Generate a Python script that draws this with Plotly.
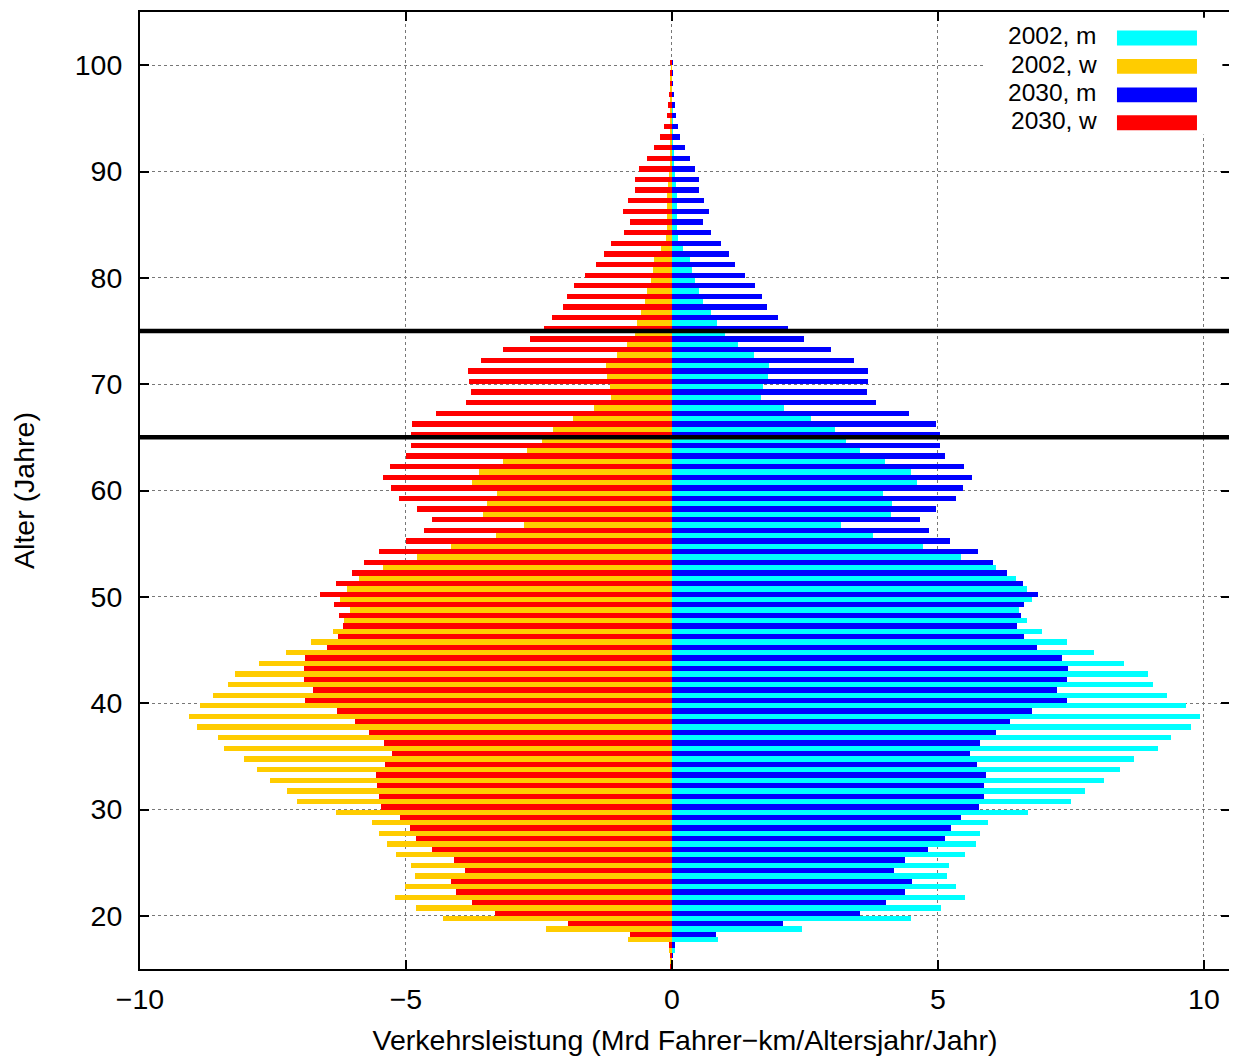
import plotly.graph_objects as go

# Ages (descending, 100 .. 15)
ages = list(range(100, 14, -1))

# 2030, men (Mrd Fahrer-km per age year), age 100 -> 15
m2030 = [0.01, 0.01, 0.02, 0.03, 0.05, 0.07, 0.11, 0.16, 0.24, 0.33,
         0.44, 0.50, 0.51, 0.61, 0.69, 0.59, 0.73, 0.92, 1.07, 1.19,
         1.37, 1.56, 1.69, 1.79, 1.99, 2.18, 2.48, 2.99, 3.42, 3.68,
         3.68, 3.66, 3.83, 4.45, 4.96, 5.04, 5.04, 5.13, 5.49, 5.64,
         5.47, 5.34, 4.96, 4.66, 4.83, 5.22, 5.75, 6.03, 6.30, 6.60,
         6.88, 6.61, 6.57, 6.48, 6.62, 6.87, 7.34, 7.45, 7.43, 7.24,
         7.43, 6.76, 6.36, 6.10, 5.79, 5.61, 5.74, 5.91, 5.87, 5.87,
         5.77, 5.43, 5.24, 5.13, 4.81, 4.38, 4.17, 4.51, 4.38, 4.02,
         3.53, 2.09, 0.83, 0.06, 0.01, 0.0]

# 2030, women (plotted to the left, negative)
w2030 = [-0.03, -0.03, -0.04, -0.05, -0.07, -0.10, -0.15, -0.22, -0.33, -0.47,
         -0.62, -0.70, -0.69, -0.82, -0.92, -0.78, -0.91, -1.14, -1.28, -1.43,
         -1.64, -1.84, -1.98, -2.05, -2.25, -2.40, -2.67, -3.18, -3.59, -3.84,
         -3.82, -3.77, -3.87, -4.43, -4.89, -4.91, -4.91, -5.00, -5.30, -5.43,
         -5.28, -5.14, -4.79, -4.51, -4.67, -5.00, -5.51, -5.78, -6.01, -6.32,
         -6.61, -6.36, -6.26, -6.18, -6.28, -6.49, -6.90, -6.91, -6.91, -6.75,
         -6.89, -6.30, -5.96, -5.69, -5.42, -5.27, -5.39, -5.57, -5.55, -5.51,
         -5.47, -5.11, -4.93, -4.81, -4.52, -4.10, -3.90, -4.15, -4.06, -3.75,
         -3.33, -1.96, -0.78, -0.06, -0.03, -0.03]

# 2002, men
m2002 = [0.0, 0.0, 0.0, 0.0, 0.01, 0.01, 0.02, 0.02, 0.03, 0.04,
         0.05, 0.07, 0.10, 0.10, 0.10, 0.10, 0.12, 0.21, 0.33, 0.38,
         0.43, 0.50, 0.58, 0.73, 0.85, 1.00, 1.24, 1.54, 1.82, 1.80,
         1.71, 1.67, 2.10, 2.61, 3.06, 3.27, 3.53, 4.00, 4.50, 4.60,
         3.96, 4.13, 4.12, 3.17, 3.77, 4.71, 5.43, 6.09, 6.47, 6.67,
         6.77, 6.53, 6.67, 6.95, 7.42, 7.94, 8.49, 8.94, 9.05, 9.31,
         9.66, 9.92, 9.76, 9.38, 9.13, 8.68, 8.43, 8.13, 7.76, 7.51,
         6.70, 5.95, 5.79, 5.71, 5.51, 5.21, 5.17, 5.34, 5.51, 5.06,
         4.49, 2.45, 0.86, 0.06, 0.0, 0.0]

# 2002, women (negative)
w2002 = [-0.01, -0.02, -0.02, -0.02, -0.02, -0.03, -0.03, -0.03, -0.04, -0.04,
         -0.05, -0.08, -0.10, -0.10, -0.10, -0.10, -0.12, -0.21, -0.33, -0.35,
         -0.39, -0.47, -0.51, -0.59, -0.65, -0.70, -0.84, -1.04, -1.24, -1.23,
         -1.17, -1.15, -1.47, -1.86, -2.24, -2.45, -2.73, -3.17, -3.63, -3.76,
         -3.28, -3.48, -3.56, -2.79, -3.30, -4.15, -4.79, -5.44, -5.88, -6.10,
         -6.24, -6.05, -6.17, -6.37, -6.79, -7.26, -7.76, -8.21, -8.35, -8.62,
         -8.87, -9.07, -8.92, -8.54, -8.42, -8.04, -7.80, -7.56, -7.24, -7.05,
         -6.32, -5.64, -5.50, -5.36, -5.19, -4.91, -4.83, -5.01, -5.21, -4.82,
         -4.30, -2.37, -0.83, -0.05, -0.02, 0.0]

series_names = ["2002, m", "2002, w", "2030, m", "2030, w"]
series_values = [m2002, w2002, m2030, w2030]
series_colors = ["#00FFFF", "#FFCC00", "#0000FF", "#FF0000"]
series_offsets = [-0.5, -0.5, 0.0, 0.0]   # 2002 below the age mark, 2030 above

marker_ages = [65, 75]

x_ticks = [-10, -5, 0, 5, 10]
y_ticks = [20, 30, 40, 50, 60, 70, 80, 90, 100]

FONT = "Liberation Sans, Arial, Helvetica, sans-serif"
FS = 28.5
LEG_FS = 24.5

fig = go.Figure()
for name, vals, col, off in zip(series_names, series_values, series_colors, series_offsets):
    fig.add_trace(go.Bar(
        x=vals, y=ages, orientation="h", name=name,
        width=0.5, offset=off,
        marker=dict(color=col, line=dict(width=0)),
        showlegend=False,
    ))

# thick reference lines
for a in marker_ages:
    fig.add_shape(type="line", xref="paper", yref="y", x0=0, x1=1, y0=a, y1=a,
                  line=dict(color="black", width=4.5), layer="above")

# custom legend (text left of swatch, like the original)
fig.add_shape(type="rect", xref="paper", yref="paper",
              x0=0.775, x1=0.993, y0=0.872, y1=0.994,
              fillcolor="white", line=dict(width=0), layer="above")
leg_y = [0.9729, 0.9432, 0.9134, 0.8843]
for name, col, yy in zip(series_names, series_colors, leg_y):
    fig.add_annotation(xref="paper", yref="paper", x=0.8798, y=yy, yshift=2,
                       text=name, showarrow=False, xanchor="right", yanchor="middle",
                       font=dict(family=FONT, size=LEG_FS, color="black"))
    fig.add_shape(type="rect", xref="paper", yref="paper",
                  x0=0.8963, x1=0.9697, y0=yy - 0.0078, y1=yy + 0.0078,
                  fillcolor=col, line=dict(width=0), layer="above")

axis_common = dict(
    showline=True, linecolor="black", linewidth=2, mirror="ticks",
    ticks="inside", ticklen=9, tickwidth=1.5, tickcolor="black",
    showgrid=True, gridcolor="#777777", griddash="dot", gridwidth=1,
    zeroline=False,
    tickfont=dict(family=FONT, size=FS, color="black"),
)

fig.update_xaxes(range=[-10, 10.49], tickvals=x_ticks, ticklabelstandoff=4,
                 title=dict(text="Verkehrsleistung (Mrd Fahrer\u2212km/Altersjahr/Jahr)",
                            font=dict(family=FONT, size=FS, color="black"), standoff=16),
                 **axis_common)
fig.update_yaxes(range=[15, 105], tickvals=y_ticks, ticklabelstandoff=10,
                 title=dict(text="Alter (Jahre)",
                            font=dict(family=FONT, size=FS, color="black"), standoff=38),
                 **axis_common)

# the page body has an 8px margin; compensate so the plot area lands where the original's does
fig.update_layout(
    width=1229, height=1053,
    margin=dict(l=132, r=7, t=2, b=92),
    plot_bgcolor="white", paper_bgcolor="white",
    barmode="overlay", bargap=0,
    showlegend=False,
    font=dict(family=FONT, size=FS, color="black"),
)

fig.write_html("out.html")
